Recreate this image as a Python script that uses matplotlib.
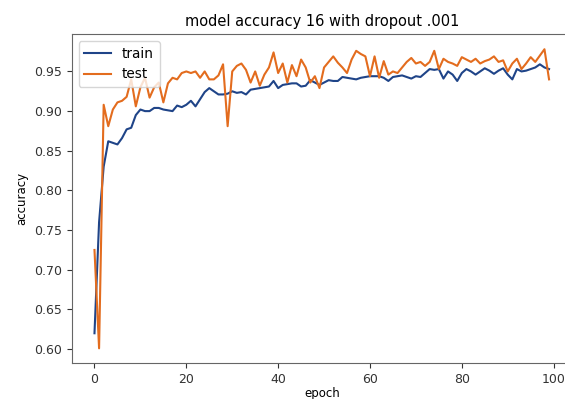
import matplotlib
matplotlib.use("Agg")
import matplotlib.pyplot as plt

epochs = list(range(100))

train = [0.620, 0.760, 0.830, 0.862, 0.860, 0.858, 0.866, 0.877, 0.879, 0.895,
         0.902, 0.900, 0.900, 0.904, 0.904, 0.902, 0.901, 0.900, 0.907, 0.905,
         0.908, 0.913, 0.906, 0.915, 0.924, 0.929, 0.925, 0.921, 0.921, 0.922,
         0.925, 0.923, 0.924, 0.921, 0.927, 0.928, 0.929, 0.930, 0.931, 0.938,
         0.929, 0.933, 0.934, 0.935, 0.935, 0.931, 0.932, 0.939, 0.936, 0.933,
         0.936, 0.939, 0.938, 0.938, 0.943, 0.942, 0.941, 0.940, 0.942, 0.943,
         0.944, 0.944, 0.944, 0.942, 0.938, 0.943, 0.944, 0.945, 0.943, 0.941,
         0.944, 0.943, 0.948, 0.953, 0.952, 0.953, 0.941, 0.950, 0.946, 0.938,
         0.948, 0.953, 0.950, 0.946, 0.950, 0.954, 0.951, 0.947, 0.951, 0.954,
         0.946, 0.940, 0.953, 0.950, 0.951, 0.953, 0.955, 0.959, 0.955, 0.953]

test = [0.725, 0.601, 0.908, 0.881, 0.902, 0.911, 0.913, 0.918, 0.940, 0.906,
        0.930, 0.942, 0.917, 0.930, 0.936, 0.911, 0.935, 0.942, 0.940, 0.948,
        0.950, 0.948, 0.950, 0.942, 0.950, 0.940, 0.940, 0.945, 0.959, 0.881,
        0.950, 0.957, 0.960, 0.952, 0.936, 0.950, 0.932, 0.946, 0.955, 0.974,
        0.948, 0.960, 0.936, 0.958, 0.944, 0.965, 0.955, 0.936, 0.944, 0.929,
        0.955, 0.962, 0.969, 0.961, 0.955, 0.948, 0.965, 0.976, 0.972, 0.969,
        0.944, 0.969, 0.942, 0.963, 0.946, 0.950, 0.948, 0.955, 0.962, 0.967,
        0.960, 0.962, 0.957, 0.962, 0.976, 0.953, 0.966, 0.962, 0.960, 0.957,
        0.968, 0.965, 0.962, 0.966, 0.960, 0.963, 0.965, 0.969, 0.962, 0.964,
        0.950, 0.960, 0.966, 0.953, 0.960, 0.968, 0.962, 0.970, 0.978, 0.940]

fig = plt.figure(figsize=(5.65, 3.99), dpi=100)
# axes runs a little past the right edge, like the cropped original
ax = fig.add_axes([0.127, 0.0895, 0.885, 0.8246])
ax.plot(epochs, train, color="#1f4488", lw=1.5, label="train")
ax.plot(epochs, test, color="#e36c1e", lw=1.5, label="test")
ax.set_title("model accuracy 16 with dropout .001", fontsize=10.5)
ax.set_xlabel("epoch", fontsize=8.5, labelpad=1)
ax.set_ylabel("accuracy", fontsize=8.5)
ax.set_yticks([0.60, 0.65, 0.70, 0.75, 0.80, 0.85, 0.90, 0.95])
ax.tick_params(labelsize=9, colors="#333333")
for s in ax.spines.values():
    s.set_color("#666666")
ax.spines["right"].set_visible(False)  # cut off in the original
ax.legend(loc="upper left", fontsize=9.8)
fig.savefig("out.png", dpi=100)
